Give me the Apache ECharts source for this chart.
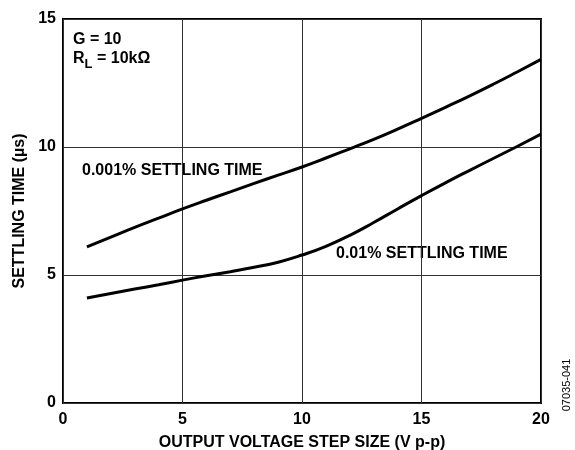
<!DOCTYPE html>
<html>
<head>
<meta charset="utf-8">
<script src="https://cdn.jsdelivr.net/npm/echarts@6/dist/echarts.min.js"></script>
<style>
  html, body { margin: 0; padding: 0; background: #fff; }
  #chart { width: 575px; height: 450px; }
</style>
</head>
<body>
<div id="chart"></div>
<script>
// Output step size (V p-p)
const stepSize = [1, 2, 3, 4, 5, 6, 7, 8, 9, 10, 11, 12, 13, 14, 15, 16, 17, 18, 19, 20];
// Settling time to 0.001% (µs)
const settle0001 = [6.1, 6.48, 6.86, 7.22, 7.58, 7.92, 8.25, 8.58, 8.9, 9.22, 9.57, 9.93, 10.3, 10.7, 11.12, 11.55, 11.99, 12.45, 12.93, 13.42];
// Settling time to 0.01% (µs)
const settle001 = [4.1, 4.28, 4.45, 4.62, 4.8, 4.97, 5.13, 5.3, 5.5, 5.78, 6.12, 6.55, 7.05, 7.58, 8.1, 8.6, 9.08, 9.55, 10.02, 10.5];
const xTicks = [0, 5, 10, 15, 20];
const yTicks = [0, 5, 10, 15];

const FONT = 'Liberation Sans, Arial, sans-serif';
const chart = echarts.init(document.getElementById('chart'), null, { renderer: 'canvas' });

function pairs(xs, ys) { return xs.map((x, i) => [x, ys[i]]); }

const boldText = { fontFamily: FONT, fontWeight: 'bold', fontSize: 16, color: '#000' };

chart.setOption({
  animation: false,
  backgroundColor: '#fff',
  grid: {
    left: 63, top: 19, width: 478, height: 384,
    outerBoundsMode: 'none', containLabel: false,
    show: true, borderColor: '#000', borderWidth: 2, backgroundColor: 'transparent'
  },
  xAxis: {
    type: 'value', min: xTicks[0], max: xTicks[xTicks.length - 1], interval: 5,
    name: 'OUTPUT VOLTAGE STEP SIZE (V p-p)', nameLocation: 'middle', nameGap: 32,
    nameTextStyle: boldText,
    axisLine: { show: false }, axisTick: { show: false },
    axisLabel: Object.assign({ margin: 9 }, boldText),
    splitLine: { show: true, lineStyle: { color: '#333', width: 1 } }
  },
  yAxis: {
    type: 'value', min: yTicks[0], max: yTicks[yTicks.length - 1], interval: 5,
    name: 'SETTLING TIME (µs)', nameLocation: 'middle', nameGap: 35, nameRotate: 90,
    nameTextStyle: boldText,
    axisLine: { show: false }, axisTick: { show: false },
    axisLabel: Object.assign({ margin: 7 }, boldText),
    splitLine: { show: true, lineStyle: { color: '#333', width: 1 } }
  },
  series: [
    {
      name: '0.001% SETTLING TIME', type: 'line', smooth: true, symbol: 'none',
      data: pairs(stepSize, settle0001),
      lineStyle: { color: '#000', width: 3 }
    },
    {
      name: '0.01% SETTLING TIME', type: 'line', smooth: true, symbol: 'none',
      data: pairs(stepSize, settle001),
      lineStyle: { color: '#000', width: 3 }
    }
  ],
  graphic: [
    {
      type: 'text', left: 73, top: 32,
      style: {
        text: '{n|G = 10}\n{n|R}{s|L}{n| = 10kΩ}',
        rich: {
          n: { fontFamily: FONT, fontWeight: 'bold', fontSize: 16, fill: '#000', lineHeight: 19, verticalAlign: 'bottom' },
          s: { fontFamily: FONT, fontWeight: 'bold', fontSize: 13, fill: '#000', lineHeight: 19, padding: [0, 0, -4, 0], verticalAlign: 'bottom' }
        }
      }
    },
    {
      type: 'text', left: 80, top: 157,
      style: { text: '0.001% SETTLING TIME', fontFamily: FONT, fontWeight: 'bold', fontSize: 16, fill: '#000', backgroundColor: '#fff', padding: [6, 2, 6, 2] }
    },
    {
      type: 'text', left: 334, top: 239,
      style: { text: '0.01% SETTLING TIME', fontFamily: FONT, fontWeight: 'bold', fontSize: 16, fill: '#000', backgroundColor: '#fff', padding: [7, 2, 7, 2] }
    },
    {
      type: 'text', x: 567, y: 385, rotation: Math.PI / 2,
      style: { text: '07035-041', fontFamily: FONT, fontSize: 11, fill: '#000', align: 'center', verticalAlign: 'middle' }
    }
  ]
});
</script>
</body>
</html>
